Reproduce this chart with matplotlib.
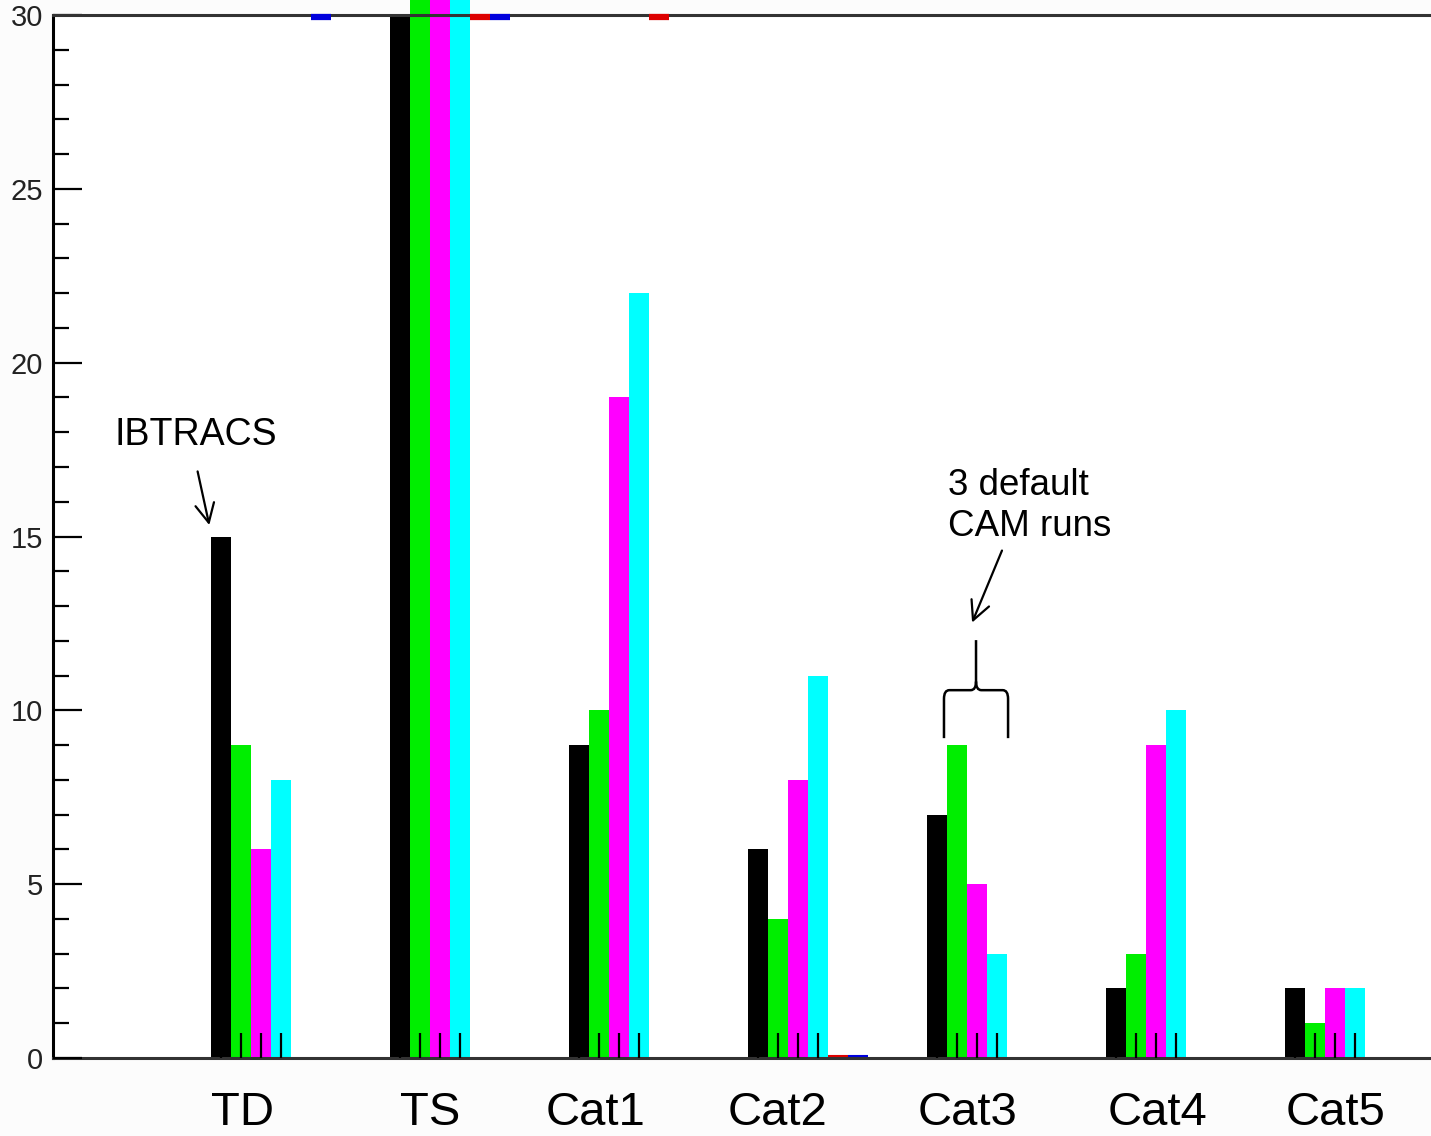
import numpy as np
import matplotlib.pyplot as plt
from matplotlib.path import Path
from matplotlib.patches import PathPatch

# category labels and counts per data set
categories = ['TD', 'TS', 'Cat1', 'Cat2', 'Cat3', 'Cat4', 'Cat5']
ibtracs = [15, 30, 9, 6, 7, 2, 2]
cam_run1 = [9, 40, 10, 4, 9, 3, 1]
cam_run2 = [6, 40, 19, 8, 5, 9, 2]
cam_run3 = [8, 40, 22, 11, 3, 10, 2]
# leftovers of two covered series (only edges visible)
red_left = [np.nan, 30, 30, 0, np.nan, np.nan, np.nan]
blue_left = [30, 30, np.nan, 0, np.nan, np.nan, np.nan]

series = [ibtracs, cam_run1, cam_run2, cam_run3]
colors = ['#000000', '#00ee00', '#ff00ff', '#00ffff']

W, H = 1431, 1136
fig = plt.figure(figsize=(W / 100, H / 100), dpi=100, facecolor='#fcfcfc')
ax = fig.add_axes([53 / W, 1 - 1058 / H, 1 - 53 / W, (1058 - 15) / H])
ax.set_facecolor('white')
ax.set_axisbelow(False)

x = np.arange(len(categories))
w = 20 / 179

# bars
for j, (vals, c) in enumerate(zip(series, colors)):
    ax.bar(x + j * w, vals, width=w, color=c, clip_on=False, zorder=2)

# remnants of covered bars: thick at the top edge, thin at the baseline
for slot, vals, c in [(4, red_left, '#dd0000'), (5, blue_left, '#0000dd')]:
    v = np.array(vals, dtype=float)
    lws = np.where(v > 0, 4.5, 1.5)
    ypos = np.where(v > 0, v - 0.06, v + 0.06)
    ax.hlines(ypos, x + slot * w - w / 2, x + slot * w + w / 2,
              colors=c, linewidths=lws, zorder=5, clip_on=False)

ax.set_xlim((53 - 221) / 179, (1431 - 221) / 179)
ax.set_ylim(0, 30)

# axes look
ax.spines['right'].set_visible(False)
for s in ['left', 'bottom', 'top']:
    ax.spines[s].set_linewidth(2.2)
    ax.spines[s].set_color('#333333')
ax.spines['left'].set_color('black')
ax.spines['top'].set_zorder(4)

ax.set_yticks(np.arange(0, 31, 5))
ax.set_yticks(np.arange(0, 31, 1), minor=True)
ax.tick_params(axis='y', which='major', direction='in', length=21, width=1.6,
               pad=7, labelsize=21, labelcolor='#222222')
ax.tick_params(axis='y', which='minor', direction='in', length=11.5, width=1.6)
for lab in ax.get_yticklabels():
    lab.set_family('Liberation Sans')

# small ticks inside each bar at the bottom
ax.set_xticks(np.concatenate([x + j * w for j in range(4)]))
ax.tick_params(axis='x', direction='in', length=18, width=1.6, labelbottom=False)

# category labels (slide text boxes, nudged as in the original)
label_nudge = [22, 30, 17, 19, 31, 42, 41]
for xi, name, nd in zip(x, categories, label_nudge):
    ax.text(xi + nd / 179, -1.93, name, ha='center', va='baseline', fontsize=34,
            family='Liberation Sans', clip_on=False)

# annotations
ax.text(-0.14, 17.92, 'IBTRACS', ha='center', va='center', fontsize=27,
        family='Liberation Sans')
ax.annotate('', xy=(-0.062, 15.25), xytext=(-0.134, 16.95),
            arrowprops=dict(arrowstyle='->', lw=1.6, color='black',
                            mutation_scale=34))

ax.text(4.061, 15.88, '3 default\nCAM runs', ha='left', va='center',
        fontsize=26.5, family='Liberation Sans', linespacing=1.25)
ax.annotate('', xy=(4.19, 12.45), xytext=(4.369, 14.67),
            arrowprops=dict(arrowstyle='->', lw=1.6, color='black',
                            mutation_scale=34))

# curly bracket over the CAM bars of Cat3
xl, xr, xm = 4.039, 4.397, 4.218
yb, yh, yt = 9.2, 10.58, 12.02
dx, dy = 0.03, 0.25
verts = [(xl, yb), (xl, yh - dy), (xl, yh), (xl + dx, yh),
         (xm - dx, yh), (xm, yh), (xm, yh + dy), (xm, yt),
         (xm, yh + dy), (xm, yh), (xm + dx, yh),
         (xr - dx, yh), (xr, yh), (xr, yh - dy), (xr, yb)]
codes = [Path.MOVETO, Path.LINETO, Path.CURVE3, Path.CURVE3,
         Path.LINETO, Path.CURVE3, Path.CURVE3, Path.LINETO,
         Path.MOVETO, Path.CURVE3, Path.CURVE3,
         Path.LINETO, Path.CURVE3, Path.CURVE3, Path.LINETO]
ax.add_patch(PathPatch(Path(verts, codes), fill=False, lw=1.8, color='black'))

fig.savefig('out.png', dpi=100, facecolor=fig.get_facecolor())
